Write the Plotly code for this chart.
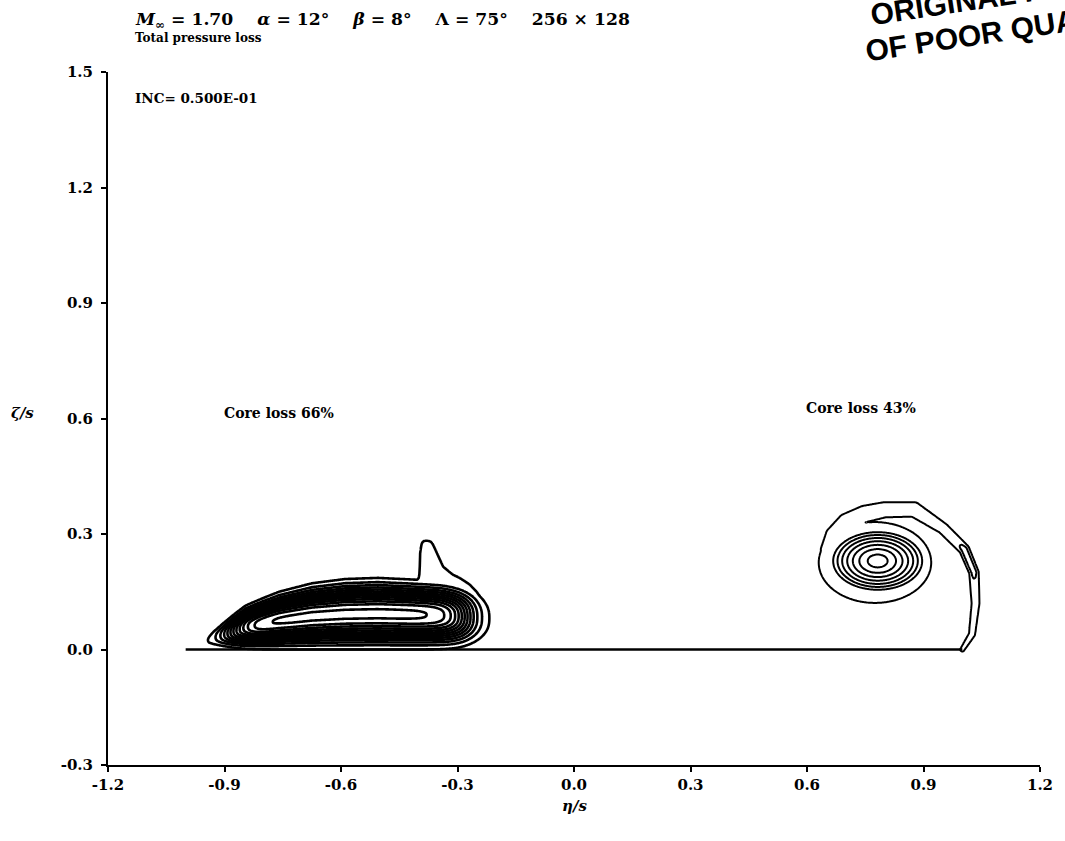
import numpy as np
import plotly.graph_objects as go

# ---- flow conditions and labels -------------------------------------------
mach = 1.70
alpha_deg = 12
beta_deg = 8
sweep_deg = 75
grid_dims = (256, 128)
contour_inc = 0.05

# peak total-pressure loss in the two vortex cores (left, right)
core_loss = [0.66, 0.43]
core_label_eta = [-0.76, 0.74]
core_label_zeta = [0.614, 0.626]

x_ticks = [-1.2, -0.9, -0.6, -0.3, 0.0, 0.3, 0.6, 0.9, 1.2]
x_tick_text = ["-1.2", "-0.9", "-0.6", "-0.3", "0.0", "0.3", "0.6", "0.9", "1.2"]
y_ticks = [-0.3, 0.0, 0.3, 0.6, 0.9, 1.2, 1.5]
y_tick_text = ["-0.3", "0.0", "0.3", "0.6", "0.9", "1.2", "1.5"]

# wing trace in the crossflow plane
wing_eta = [-1.0, 1.0]
wing_zeta = [0.0, 0.0]

# ---- left vortex: loss layer lying on the wing ------------------------------
left_edge_eta = [-1.0, -0.93, -0.846, -0.76, -0.675, -0.59, -0.505, -0.42, -0.34, -0.26, -0.20]
left_edge_zeta = [0.0, 0.059, 0.116, 0.150, 0.172, 0.183, 0.186, 0.182, 0.178, 0.170, 0.160]
left_plateau_eta = [-0.88, -0.2785]     # inboard / outboard fall-off positions
left_falloff = [0.025, 0.0242]
left_profile_power = 2.5                # sharpness of the loss layer across its thickness

# fin of lost total pressure standing above the left vortex, with its outboard foot
fin_zeta = [0.030, 0.060, 0.100, 0.124, 0.150, 0.169, 0.185, 0.195, 0.215, 0.250, 0.286]
fin_left = [-0.450, -0.450, -0.450, -0.450, -0.450, -0.420, -0.403, -0.401, -0.400, -0.399, -0.394]
fin_right = [-0.240, -0.222, -0.220, -0.230, -0.248, -0.266, -0.290, -0.310, -0.334, -0.350, -0.366]
fin_level = 0.075

# ---- right vortex: rolled-up core fed by the leading-edge sheet -------------
right_center = [0.782, 0.230]
right_core_axes = [0.121, 0.079]
right_core_power = 1.6
pedestal_center = [0.775, 0.226]
pedestal_axes = [0.149, 0.108]
pedestal_level = 0.07

sheet_eta = [1.000, 1.025, 1.034, 1.030, 1.005, 0.950, 0.875, 0.800, 0.748, 0.700, 0.665, 0.648, 0.645]
sheet_zeta = [0.000, 0.040, 0.120, 0.200, 0.260, 0.315, 0.364, 0.363, 0.352, 0.333, 0.300, 0.260, 0.220]
sheet_halfwidth = [0.006, 0.009, 0.011, 0.012, 0.013, 0.015, 0.021, 0.022, 0.024, 0.022, 0.018, 0.014, 0.008]
sheet_level = [0.075, 0.075, 0.080, 0.105, 0.105, 0.080, 0.075, 0.075, 0.075, 0.075, 0.075, 0.075, 0.075]


def sig(v):
    return 1.0 / (1.0 + np.exp(-np.clip(v, -60, 60)))


def left_vortex(E, Zg):
    a = core_loss[0]
    top = np.interp(E, left_edge_eta, left_edge_zeta, left=0.0, right=0.0)
    half = np.maximum(top / 2.0, 1e-4)
    k = np.log(a / contour_inc)
    fy = np.exp(-k * np.abs((Zg - top / 2.0) / half) ** left_profile_power)
    fx = (sig((E - left_plateau_eta[0]) / left_falloff[0])
          * sig(-(E - left_plateau_eta[1]) / left_falloff[1]))
    f = np.where(top > 0.002, a * fy * fx, 0.0)
    fl = np.interp(Zg, fin_zeta, fin_left)
    fr = np.interp(Zg, fin_zeta, fin_right)
    w = 0.004
    fin = (fin_level * sig((E - fl) / w) * sig((fr - E) / w)
           * sig((fin_zeta[-1] - Zg) / w) * sig((Zg - fin_zeta[0]) / w))
    return np.maximum(f, fin)


def right_vortex(E, Zg):
    a = core_loss[1] - pedestal_level
    rc = np.sqrt(((E - right_center[0]) / right_core_axes[0]) ** 2
                 + ((Zg - right_center[1]) / right_core_axes[1]) ** 2)
    core = a * np.clip(1.0 - rc ** right_core_power, 0.0, None)
    rp = np.sqrt(((E - pedestal_center[0]) / pedestal_axes[0]) ** 2
                 + ((Zg - pedestal_center[1]) / pedestal_axes[1]) ** 2)
    pedestal = pedestal_level * sig((1.0 - rp) / 0.03)

    best = np.full(E.shape, np.inf)
    lev = np.zeros(E.shape)
    for i in range(len(sheet_eta) - 1):
        ax0, ay0 = sheet_eta[i], sheet_zeta[i]
        dx, dy = sheet_eta[i + 1] - ax0, sheet_zeta[i + 1] - ay0
        t = np.clip(((E - ax0) * dx + (Zg - ay0) * dy) / (dx * dx + dy * dy), 0.0, 1.0)
        d = np.hypot(E - (ax0 + t * dx), Zg - (ay0 + t * dy))
        hw = sheet_halfwidth[i] + t * (sheet_halfwidth[i + 1] - sheet_halfwidth[i])
        dn = d / hw
        lv = sheet_level[i] + t * (sheet_level[i + 1] - sheet_level[i])
        mask = dn < best
        best = np.where(mask, dn, best)
        lev = np.where(mask, lv, lev)
    sheet = lev * sig((1.0 - best) / 0.15)
    return np.maximum(pedestal, sheet) + core


zeta = np.arange(-0.04, 0.45, 0.002)
eta_left = np.arange(-1.10, -0.10, 0.003)
eta_right = np.arange(0.50, 1.15, 0.003)

fig = go.Figure()
for eta, fn, lw in [(eta_left, left_vortex, 2.6), (eta_right, right_vortex, 2.0)]:
    E, Zg = np.meshgrid(eta, zeta)
    fig.add_trace(go.Contour(
        x=eta, y=zeta, z=fn(E, Zg),
        contours=dict(start=contour_inc, end=0.65, size=contour_inc, coloring="none"),
        line=dict(color="black", width=lw, smoothing=0.6),
        showscale=False, hoverinfo="skip",
    ))
fig.add_trace(go.Scatter(
    x=wing_eta, y=wing_zeta, mode="lines",
    line=dict(color="black", width=2.4), hoverinfo="skip", showlegend=False,
))

serif = "DejaVu Serif"
axis_common = dict(
    showline=True, linecolor="black", linewidth=2, ticks="outside", ticklen=5,
    tickwidth=1.5, tickcolor="black", showgrid=False, zeroline=False,
    tickfont=dict(family=serif, size=15, color="black", weight="bold"),
)
fig.update_layout(
    width=1065, height=841,
    margin=dict(l=108, r=18, t=72, b=76),
    paper_bgcolor="white", plot_bgcolor="white",
    showlegend=False,
    xaxis=dict(range=[-1.2, 1.2], tickvals=x_ticks, ticktext=x_tick_text, **axis_common),
    yaxis=dict(range=[-0.3, 1.5], tickvals=y_ticks, ticktext=y_tick_text,
               ticklabelstandoff=5, **axis_common),
)

px0, pw, py1, ph = 108, 939, 765, 693


def px(xp):
    return (xp - px0) / pw


def py(yp):
    return (py1 - yp) / ph


sp = "\u00a0\u00a0\u00a0\u00a0"
title1 = (f"<i>M</i><sub>∞</sub> = {mach:.2f}{sp}<i>α</i> = {alpha_deg}°{sp}"
          f"<i>β</i> = {beta_deg}°{sp}Λ = {sweep_deg}°{sp}{grid_dims[0]} × {grid_dims[1]}")
bold_font = dict(family=serif, color="black", weight="bold")
ann = [
    dict(x=px(133), y=py(21), text=title1, font=dict(size=17.2, **bold_font)),
    dict(x=px(133), y=py(38), text="Total pressure loss", font=dict(size=12, **bold_font)),
    dict(x=px(133), y=py(98), text=f"INC= {contour_inc * 10:.3f}E-01", font=dict(size=13.5, **bold_font)),
    dict(x=px(22), y=py(413), text="<i>ζ/s</i>", font=dict(size=15, **bold_font), xanchor="center"),
    dict(x=0.5, y=py(806), text="<i>η/s</i>", font=dict(size=15, **bold_font), xanchor="center"),
]
for a in ann:
    a.setdefault("xanchor", "left")
    a.update(xref="paper", yref="paper", yanchor="middle", showarrow=False)
for e_, z_, v in zip(core_label_eta, core_label_zeta, core_loss):
    ann.append(dict(x=e_, y=z_, xref="x", yref="y", text=f"Core loss {round(v * 100)}%",
                    font=dict(size=14, **bold_font), showarrow=False,
                    xanchor="center", yanchor="middle"))

# archive stamp across the top right corner
stamp_font = dict(family="Liberation Sans", size=30, color="black", weight="bold")
ann.append(dict(x=px(1013), y=py(-6), xref="paper", yref="paper", text="ORIGINAL PAGE IS",
                textangle=-8.5, font=stamp_font, showarrow=False,
                xanchor="center", yanchor="middle"))
ann.append(dict(x=px(1010), y=py(30), xref="paper", yref="paper", text="OF POOR QUALITY",
                textangle=-8.5, font=stamp_font, showarrow=False,
                xanchor="center", yanchor="middle"))
fig.update_layout(annotations=ann)

fig.write_html("out.html")
